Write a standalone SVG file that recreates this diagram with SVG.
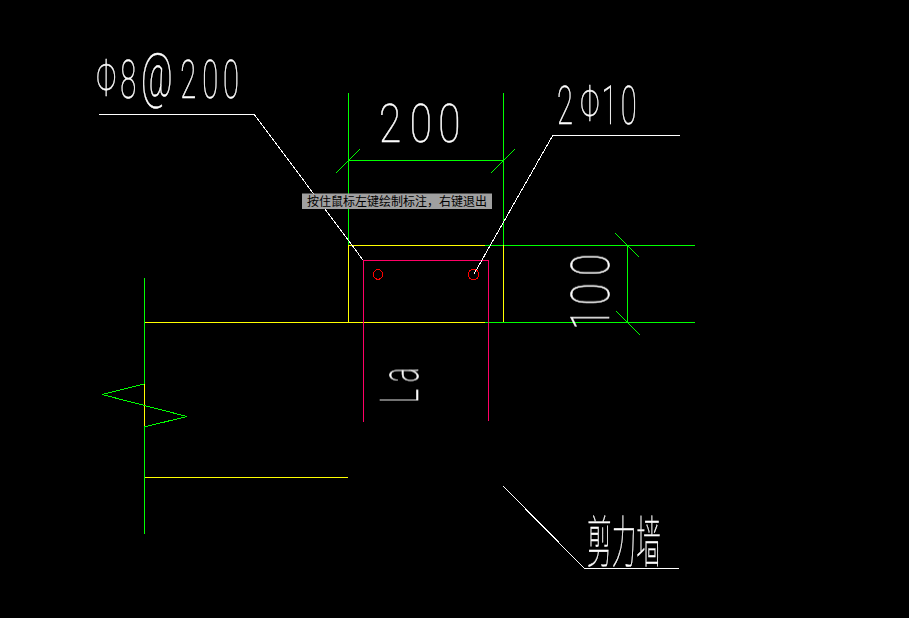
<svg xmlns="http://www.w3.org/2000/svg" width="909" height="618" viewBox="0 0 909 618">
<style>
.g{stroke:#00ff00}.y{stroke:#ffff00}.m{stroke:#ff0066}.w{stroke:#fff}.r{stroke:#ff0000}
line,polyline,circle{fill:none;stroke-width:1;shape-rendering:crispEdges}
.t{font-family:Roboto,"Liberation Sans",sans-serif;font-weight:100;fill:#fff;stroke:#fff;stroke-width:.5}
.c{font-family:"Noto Sans CJK SC",sans-serif;font-weight:100;fill:#fff;stroke:#fff;stroke-width:.4}
.tip{font-family:"Noto Sans CJK SC",sans-serif;font-size:12px;fill:#000}
</style>
<rect width="909" height="618" fill="#000"/>
<g id="connectors">
<line class="g" x1="348.5" y1="93" x2="348.5" y2="245"/>
<line class="g" x1="503.5" y1="93" x2="503.5" y2="245"/>
<line class="g" x1="348" y1="160.5" x2="504" y2="160.5"/>
<line class="y" x1="348" y1="245.5" x2="485" y2="245.5"/>
<line class="g" x1="485" y1="245.5" x2="695" y2="245.5"/>
<line class="y" x1="348.5" y1="245" x2="348.5" y2="322"/>
<line class="y" x1="503.5" y1="245" x2="503.5" y2="322"/>
<line class="y" x1="145" y1="322.5" x2="485" y2="322.5"/>
<line class="g" x1="485" y1="322.5" x2="695" y2="322.5"/>
<line class="g" x1="627.5" y1="245" x2="627.5" y2="322"/>
<line class="g" x1="144.5" y1="278" x2="144.5" y2="384"/>
<line class="y" x1="144.5" y1="384" x2="144.5" y2="427"/>
<line class="g" x1="144.5" y1="427" x2="144.5" y2="534"/>
<line class="y" x1="145" y1="477.5" x2="348" y2="477.5"/>
<line class="w" x1="99" y1="114.5" x2="254" y2="114.5"/>
<line class="w" x1="553" y1="135.5" x2="680" y2="135.5"/>
<line class="w" x1="584" y1="568.5" x2="679" y2="568.5"/>
<polyline class="m" points="363.5,422 363.5,260.5 488.5,260.5 488.5,421"/>
<line class="g" x1="336" y1="173" x2="360" y2="149"/>
<line class="g" x1="491" y1="173" x2="515" y2="149"/>
<line class="g" x1="615" y1="233" x2="639" y2="257"/>
<line class="g" x1="616" y1="311" x2="640" y2="335"/>
<polyline class="g" points="144,384 102,394.5 187,416.5 144,427"/>
<line class="w" x1="254" y1="114" x2="363" y2="260"/>
<line class="w" x1="553" y1="135" x2="474" y2="274"/>
<line class="w" x1="503" y1="486" x2="584" y2="568"/>
</g>
<g id="rebar-left"><circle class="r" cx="378" cy="274.5" r="4.8"/></g>
<g id="rebar-right"><circle class="r" cx="473.5" cy="274.5" r="5.2"/></g>
<g id="tooltip">
<rect x="302" y="193.5" width="190" height="15.5" fill="#a0a0a0"/>
<text class="tip" x="307" y="205.5" textLength="180">按住鼠标左键绘制标注，右键退出</text>
</g>
<g opacity=".999">
<g id="label-stirrup"><text class="t" transform="translate(96,98) scale(.55,1)" font-size="53" x="0 44 82 153 193 231"><tspan font-size="52" dy="-2">Φ</tspan><tspan dy="2">8</tspan><tspan font-size="62" dy="-2">@</tspan><tspan dy="2">200</tspan></text></g>
<g id="label-bar"><text class="t" transform="translate(557,124) scale(.55,1)" font-size="53" x="0 42 81 116"><tspan>2</tspan><tspan font-size="50" dy="-3">Φ</tspan><tspan dy="3">10</tspan></text></g>
<g id="label-200"><text class="t" transform="translate(379,142) scale(.75,1)" font-size="54" x="0 41 79">200</text></g>
<g id="label-100"><text class="t" transform="translate(609,330) rotate(-90) scale(.75,1)" font-size="54" x="0 33 72">100</text></g>
<g id="label-la"><text class="t" transform="translate(418,403) rotate(-90) scale(.5,1)" font-size="54" x="0 42">La</text></g>
<g id="label-wall"><text class="c" transform="translate(587,562) scale(.44,1)" font-size="56" x="0 56 112">剪力墙</text></g>
</g>
</svg>
